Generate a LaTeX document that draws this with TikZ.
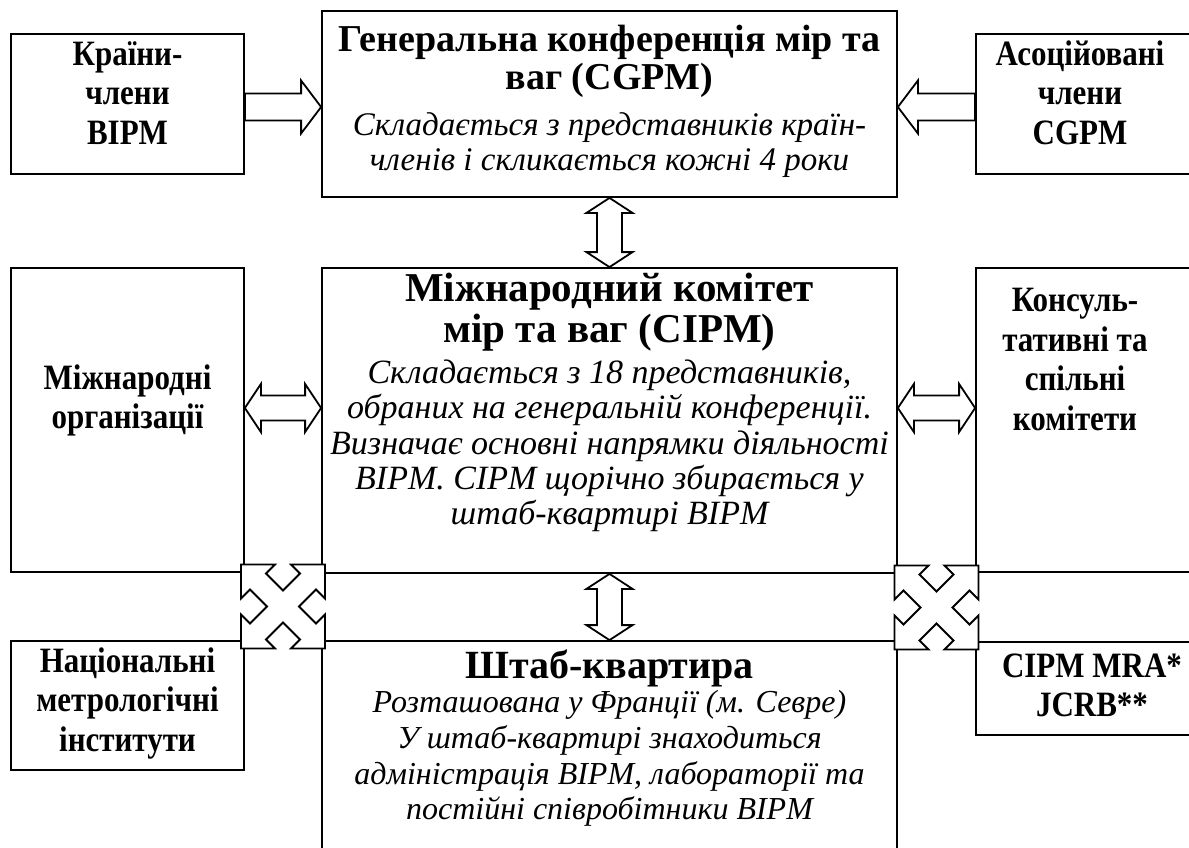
\documentclass[tikz,border=0pt]{standalone}
\usepackage{fontspec}
\setmainfont{Liberation Serif}
\usetikzlibrary{calc}
\newcommand\vstretch[1]{\scalebox{1}[1.15]{\begin{tabular}{@{}c@{}}#1\end{tabular}}}
\tikzset{
  box/.style={draw, line width=1.8pt, fill=white, inner sep=0pt},
  blk/.style={draw, line width=1.8pt, fill=white, line join=miter},
  ttlA/.style={font=\bfseries\fontsize{38}{38}\selectfont, align=center, inner sep=0pt},
  ttlB/.style={font=\bfseries\fontsize{41}{41}\selectfont, align=center, inner sep=0pt},
  ttlC/.style={font=\bfseries\fontsize{40}{40}\selectfont, align=center, inner sep=0pt},
  sdt/.style={font=\bfseries\fontsize{31}{34.5}\selectfont, inner sep=0pt},
  itx/.style={font=\itshape\fontsize{33}{35}\selectfont, align=center, inner sep=0pt},
  itxB/.style={font=\itshape\fontsize{34}{35.3}\selectfont, align=center, inner sep=0pt},
  itxC/.style={font=\itshape\fontsize{32}{35.7}\selectfont, align=center, inner sep=0pt},
}
% single block arrow: #1 tail, #2 tip, #3 direction (1 right, -1 left)
\newcommand\sArrow[3]{%
  \draw[blk] let \p1=(#1), \p2=(#2) in
  (\x1,{\y1+13.5pt}) -- ({\x2-(#3)*20pt},{\y1+13.5pt}) -- ({\x2-(#3)*20pt},{\y1+26.5pt})
  -- (\x2,\y1) -- ({\x2-(#3)*20pt},{\y1-26.5pt}) -- ({\x2-(#3)*20pt},{\y1-13.5pt})
  -- (\x1,{\y1-13.5pt}) -- cycle;}
% horizontal double block arrow: #1 left tip, #2 right tip
\newcommand\dArrowH[2]{%
  \draw[blk] let \p1=(#1), \p2=(#2) in
  (\x1,\y1) -- ({\x1+16pt},{\y1+24pt}) -- ({\x1+16pt},{\y1+12.5pt}) -- ({\x2-16pt},{\y1+12.5pt})
  -- ({\x2-16pt},{\y1+24pt}) -- (\x2,\y1) -- ({\x2-16pt},{\y1-24pt}) -- ({\x2-16pt},{\y1-12.5pt})
  -- ({\x1+16pt},{\y1-12.5pt}) -- ({\x1+16pt},{\y1-24pt}) -- cycle;}
% vertical double block arrow: #1 top tip, #2 bottom tip
\newcommand\dArrowV[2]{%
  \draw[blk] let \p1=(#1), \p2=(#2) in
  (\x1,\y1) -- ({\x1+23pt},{\y1-15pt}) -- ({\x1+12.5pt},{\y1-15pt}) -- ({\x1+12.5pt},{\y2+15pt})
  -- ({\x1+23pt},{\y2+15pt}) -- (\x1,\y2) -- ({\x1-23pt},{\y2+15pt}) -- ({\x1-12.5pt},{\y2+15pt})
  -- ({\x1-12.5pt},{\y1-15pt}) -- ({\x1-23pt},{\y1-15pt}) -- cycle;}
% four-way diagonal arrow centred at #1
\newcommand\xArrow[1]{%
  \draw[blk, shift={(#1)}]
  (-42,-42) -- (-8,-42) -- (-17,-33) -- (0,-16) -- (17,-33) -- (8,-42) -- (42,-42)
  -- (42,-8) -- (33,-17) -- (16,0) -- (33,17) -- (42,8) -- (42,42)
  -- (8,42) -- (17,33) -- (0,16) -- (-17,33) -- (-8,42) -- (-42,42)
  -- (-42,8) -- (-33,17) -- (-16,0) -- (-33,-17) -- (-42,-8) -- cycle;}
\begin{document}
\begin{tikzpicture}[x=1pt,y=-1pt]
\useasboundingbox (0,0) rectangle (1189,848);
\clip (0,0) rectangle (1189,848);
\fill[white] (0,0) rectangle (1189,848);
% boxes
\node[box, minimum width=233pt, minimum height=140pt] (lb1) at (127.5,104) {};
\node[box, minimum width=575pt, minimum height=186pt] (cgpm) at (609.5,104) {};
\node[box, minimum width=224pt, minimum height=140pt] (rb1) at (1088,104) {};
\node[box, minimum width=233pt, minimum height=304pt] (lb2) at (127.5,420) {};
\node[box, minimum width=575pt, minimum height=305pt] (cipm) at (609.5,420.5) {};
\node[box, minimum width=224pt, minimum height=304pt] (rb2) at (1088,420) {};
\node[box, minimum width=233pt, minimum height=129pt] (lb3) at (127.5,705.5) {};
\node[box, minimum width=575pt, minimum height=229pt] (hq) at (609.5,755.5) {};
\node[box, minimum width=224pt, minimum height=93pt] (rb3) at (1088,688.5) {};
% texts
\node[sdt] (t1) at (127.5,97) {\vstretch{Країни-\\члени\\BIPM}};
\node[sdt] (t2) at (1080,97) {\vstretch{Асоційовані\\члени\\CGPM}};
\node[sdt] (t3) at (127.5,401) {\vstretch{Міжнародні\\організації}};
\node[sdt] (t4) at (1075,363) {\vstretch{Консуль-\\тативні та\\спільні\\комітети}};
\node[sdt] (t5) at (127.5,704) {\vstretch{Національні\\метрологічні\\інститути}};
\node[sdt] (t6) at (1092,689) {\vstretch{CIPM MRA*\\JCRB**}};
\node[ttlA] (c1) at (609.5,61) {Генеральна конференція мір та\\ваг (CGPM)};
\node[itx] (c2) at (609.5,145) {Складається з представників країн-\\членів і скликається кожні 4 роки};
\node[ttlB] (c3) at (609.5,312) {Міжнародний комітет\\мір та ваг (CIPM)};
\node[itxB] (c4) at (609.5,446) {Складається з 18 представників,\\обраних на генеральній конференції.\\Визначає основні напрямки діяльності\\BIPM. CIPM щорічно збирається у\\штаб-квартирі BIPM};
\node[ttlC] (c5) at (609.5,668) {Штаб-квартира};
\node[itxC] (c6) at (609.5,758.5) {Розташована у Франції (м. Севре)\\У штаб-квартирі знаходиться\\адміністрація BIPM, лабораторії та\\постійні співробітники BIPM};
% connectors
\coordinate (a1) at ($(lb1.east)+(0,3)$);
\sArrow{a1}{a1 -| cgpm.west}{1}
\coordinate (a2) at ($(rb1.west)+(0,3)$);
\sArrow{a2}{a2 -| cgpm.east}{-1}
\dArrowV{cgpm.south}{cipm.north}
\dArrowV{cipm.south}{hq.north}
\coordinate (h1) at ($(lb2.east)+(0,-12)$);
\dArrowH{h1}{h1 -| cipm.west}
\coordinate (h2) at ($(cipm.east)+(0,-12.5)$);
\dArrowH{h2}{h2 -| rb2.west}
\coordinate (xl) at ($(lb2.south east)!0.5!(hq.north west)$);
\xArrow{xl}
\coordinate (xr) at ($(cipm.south east)!0.5!(rb3.north west)$);
\xArrow{xr}
\end{tikzpicture}
\end{document}
